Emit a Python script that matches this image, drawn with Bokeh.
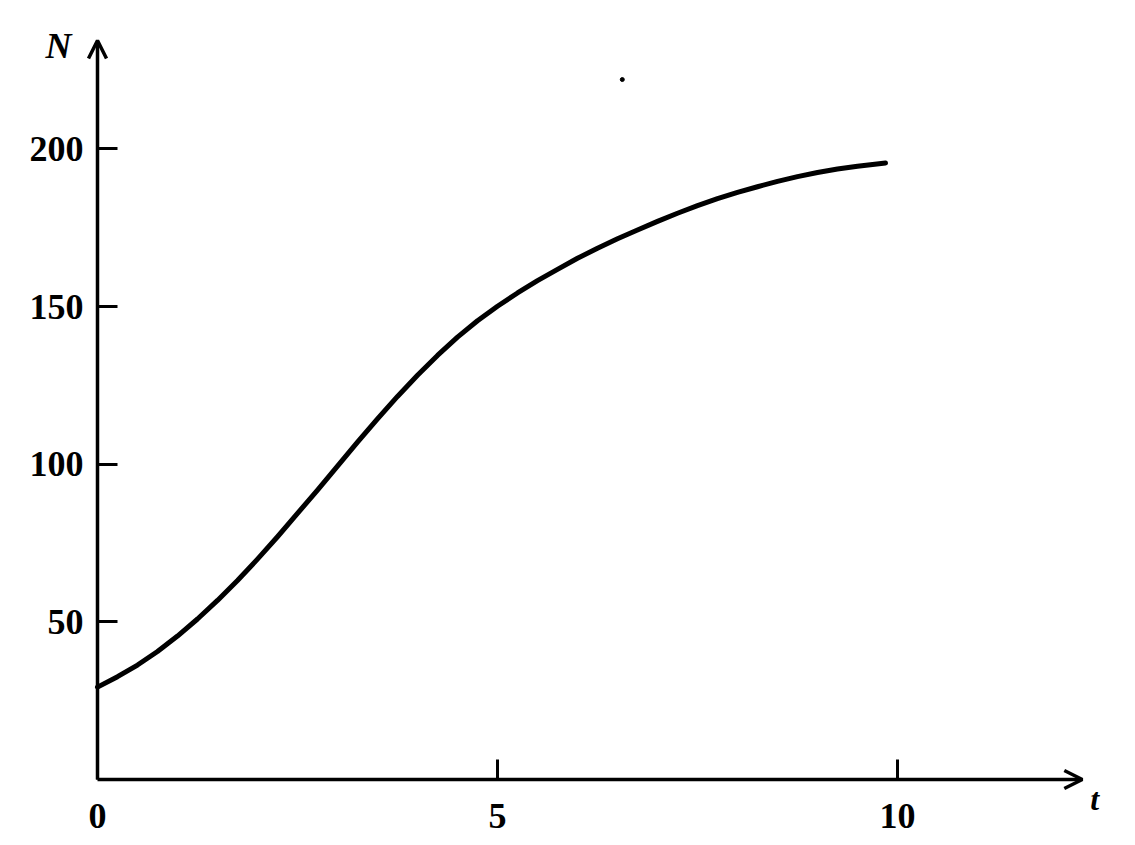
from bokeh.plotting import figure
from bokeh.models import Range1d, FixedTicker, Arrow, OpenHead, Label
from bokeh.embed import file_html
from bokeh.resources import INLINE

# Data
t_vals = [0, 0.25, 0.5, 0.75, 1, 1.25, 1.5, 1.75, 2, 2.25, 2.5, 2.75, 3, 3.25, 3.5,
          3.75, 4, 4.25, 4.5, 4.75, 5, 5.25, 5.5, 5.75, 6, 6.25, 6.5, 6.75, 7,
          7.25, 7.5, 7.75, 8, 8.25, 8.5, 8.75, 9, 9.25, 9.5, 9.85]
n_vals = [29.3, 32.6, 36.3, 40.6, 45.5, 50.9, 56.8, 63.1, 69.9, 77.0, 84.4, 91.8, 99.4, 107.0, 114.4,
          121.5, 128.2, 134.5, 140.3, 145.5, 150.1, 154.3, 158.2, 161.8, 165.3, 168.5, 171.5, 174.3, 177.0,
          179.6, 182.0, 184.2, 186.2, 188.0, 189.7, 191.2, 192.5, 193.6, 194.5, 195.5]
x_ticks = [0, 5, 10]
y_ticks = [50, 100, 150, 200]
speck_t = [6.56]
speck_n = [222]

W, H = 1119, 837
X0PX, Y0PX = 97, 779          # pixel position of the origin
XPX, YPX = 80.0, 3.153        # pixels per data unit

p = figure(width=W, height=H, output_backend="svg", toolbar_location=None,
           x_range=Range1d(-X0PX / XPX, (W - X0PX) / XPX),
           y_range=Range1d(-(H - Y0PX) / YPX, Y0PX / YPX),
           min_border_left=0, min_border_bottom=0, min_border_top=0, min_border_right=0)
p.outline_line_color = None
p.grid.visible = False
p.background_fill_color = "white"

FONT = "Liberation Serif"
for ax in (p.xaxis, p.yaxis):
    ax.fixed_location = 0
    ax.axis_line_color = None
    ax.major_tick_out = 0
    ax.major_tick_in = 20
    ax.major_tick_line_width = 3
    ax.major_tick_line_color = "black"
    ax.minor_tick_line_color = None
    ax.major_label_text_font = FONT
    ax.major_label_text_font_size = "36px"
    ax.major_label_text_font_style = "bold"
    ax.major_label_text_color = "black"
p.xaxis.ticker = FixedTicker(ticks=x_ticks)
p.yaxis.ticker = FixedTicker(ticks=y_ticks)
p.xaxis.major_label_standoff = 24
p.yaxis.major_label_standoff = 14

# axis lines with arrows
p.add_layout(Arrow(x_start=0, y_start=0, x_end=0, y_end=234.4, line_width=3.5, line_color="black",
                   end=OpenHead(size=18, line_width=3.5, line_color="black")))
p.add_layout(Arrow(x_start=0, y_start=0, x_end=12.31, y_end=0, line_width=3.5, line_color="black",
                   end=OpenHead(size=18, line_width=3.5, line_color="black")))

p.line(t_vals, n_vals, line_width=5, line_color="black", line_cap="round", line_join="round")
p.scatter(speck_t, speck_n, size=4, color="black")

p.add_layout(Label(x=-0.65, y=226.4, text="N", text_font=FONT, text_font_size="36px",
                   text_font_style="bold italic", text_color="black"))
p.add_layout(Label(x=12.41, y=-12.05, text="t", text_font=FONT, text_font_size="32px",
                   text_font_style="bold italic", text_color="black"))

open("out.html", "w").write(file_html(p, INLINE))
